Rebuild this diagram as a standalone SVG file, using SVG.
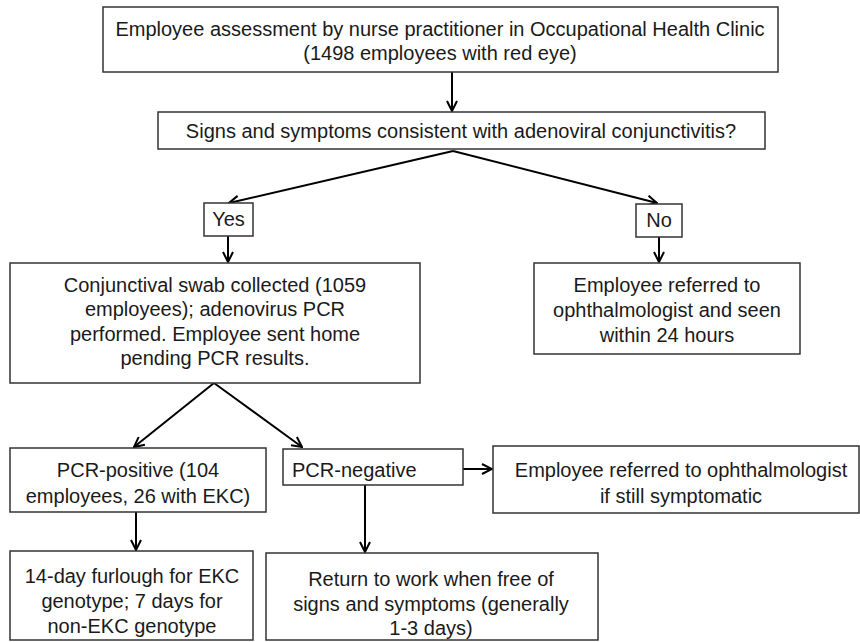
<svg xmlns="http://www.w3.org/2000/svg" width="860" height="642" viewBox="0 0 860 642">
<defs>
<marker id="arr" viewBox="0 0 12 12" refX="11" refY="6" markerWidth="12" markerHeight="12" markerUnits="userSpaceOnUse" orient="auto">
<path d="M1,1 L11,6 L1,11" fill="none" stroke="#000" stroke-width="2"/>
</marker>
<style>
.box{fill:#fff;stroke:#333;stroke-width:1.5}
.t{font-family:"Liberation Sans",Arial,sans-serif;font-size:20px;fill:#1a1a1a;text-anchor:middle}
.l{text-anchor:start}
.c{fill:none;stroke:#000;stroke-width:2;marker-end:url(#arr)}
</style>
</defs>
<rect width="860" height="642" fill="#fff"/>
<g id="connectors">
<line class="c" x1="452" y1="72" x2="452" y2="111"/>
<line class="c" x1="453" y1="151" x2="229" y2="203"/>
<line class="c" x1="453" y1="151" x2="657" y2="203"/>
<line class="c" x1="228" y1="236" x2="228" y2="262"/>
<line class="c" x1="659" y1="237" x2="659" y2="262"/>
<line class="c" x1="214" y1="383" x2="134" y2="447"/>
<line class="c" x1="214" y1="383" x2="302" y2="447"/>
<line class="c" x1="463" y1="469" x2="492" y2="469"/>
<line class="c" x1="136" y1="512" x2="136" y2="550"/>
<line class="c" x1="365" y1="485" x2="365" y2="552"/>
</g>
<g id="n_assess">
<rect class="box" x="103" y="7" width="675" height="65"/>
<text class="t" x="440" y="36">Employee assessment by nurse practitioner in Occupational Health Clinic</text>
<text class="t" x="440" y="60">(1498 employees with red eye)</text>
</g>
<g id="n_signs">
<rect class="box" x="158" y="112" width="607" height="37"/>
<text class="t" x="461" y="138">Signs and symptoms consistent with adenoviral conjunctivitis?</text>
</g>
<g id="n_yes">
<rect class="box" x="204" y="203" width="49" height="33"/>
<text class="t" x="228.5" y="226">Yes</text>
</g>
<g id="n_no">
<rect class="box" x="636" y="204" width="46" height="33"/>
<text class="t" x="659" y="227">No</text>
</g>
<g id="n_swab">
<rect class="box" x="10" y="263" width="410" height="120"/>
<text class="t" x="215" y="292">Conjunctival swab collected (1059</text>
<text class="t" x="215" y="316">employees); adenovirus PCR</text>
<text class="t" x="215" y="341">performed. Employee sent home</text>
<text class="t" x="215" y="365">pending PCR results.</text>
</g>
<g id="n_referred">
<rect class="box" x="534" y="263" width="266" height="91"/>
<text class="t" x="667" y="292">Employee referred to</text>
<text class="t" x="667" y="317">ophthalmologist and seen</text>
<text class="t" x="667" y="342">within 24 hours</text>
</g>
<g id="n_pos">
<rect class="box" x="10" y="448" width="256" height="64"/>
<text class="t" x="138" y="477">PCR-positive (104</text>
<text class="t" x="138" y="503">employees, 26 with EKC)</text>
</g>
<g id="n_neg">
<rect class="box" x="283" y="449" width="180" height="36"/>
<text class="t l" x="292" y="477">PCR-negative</text>
</g>
<g id="n_referred2">
<rect class="box" x="493" y="446" width="366" height="67"/>
<text class="t" x="681" y="477">Employee referred to ophthalmologist</text>
<text class="t" x="681" y="503">if still symptomatic</text>
</g>
<g id="n_furlough">
<rect class="box" x="10" y="551" width="243" height="89"/>
<text class="t" x="132" y="583">14-day furlough for EKC</text>
<text class="t" x="132" y="608">genotype; 7 days for</text>
<text class="t" x="132" y="633">non-EKC genotype</text>
</g>
<g id="n_return">
<rect class="box" x="266" y="553" width="332" height="87"/>
<text class="t" x="431" y="586">Return to work when free of</text>
<text class="t" x="431" y="611">signs and symptoms (generally</text>
<text class="t" x="431" y="635">1-3 days)</text>
</g>
</svg>
